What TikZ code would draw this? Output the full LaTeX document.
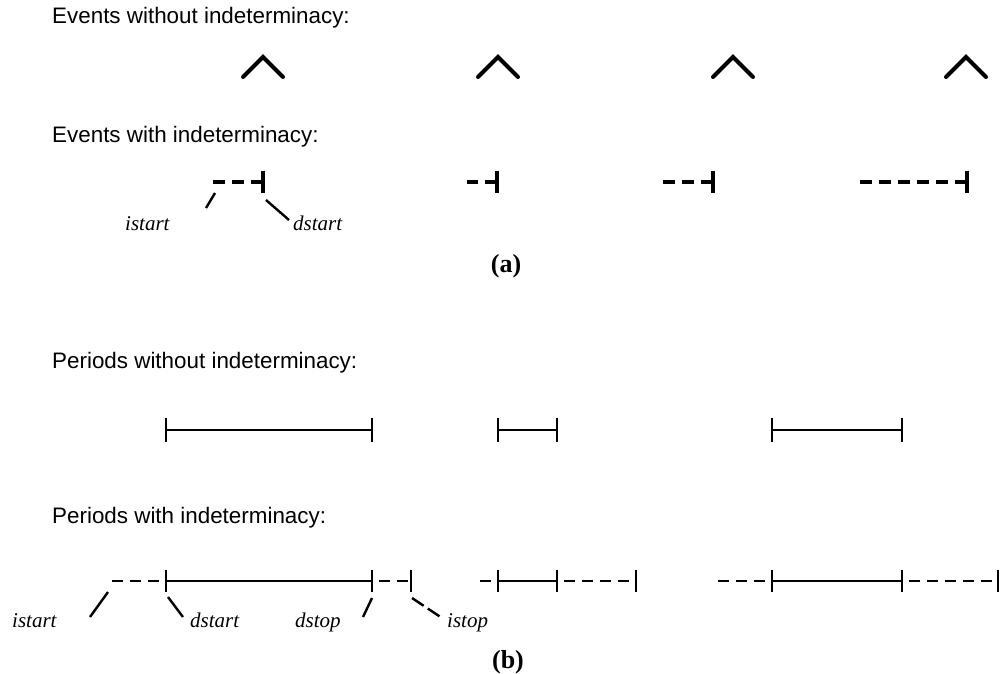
\documentclass[tikz,border=0pt]{standalone}
\usepackage{fontspec}
\setmainfont{Liberation Sans}
\newfontfamily\seriffont{Liberation Serif}
\begin{document}
\begin{tikzpicture}[x=1pt,y=-1pt,
  heading/.style={anchor=base west, inner sep=0pt, font=\fontsize{22.4}{27}\selectfont},
  tag/.style={anchor=base west, inner sep=0pt, font=\seriffont\itshape\fontsize{21}{25}\selectfont},
  caption/.style={anchor=base, inner sep=0pt, font=\seriffont\bfseries\fontsize{26}{30}\selectfont},
  caret/.style={line width=4pt, line cap=round, line join=miter},
  evdash/.style={line width=3.6pt, dash pattern=on 12pt off 7pt},
  evtick/.style={line width=3.4pt},
  span/.style={line width=2.2pt},
  pdtick/.style={line width=2.8pt},
  pddash/.style={line width=2.8pt, dash pattern=on 11pt off 7pt, dash phase=11pt},
  pointer/.style={line width=2.4pt},
]
\useasboundingbox (0,0) rectangle (1002,674);

% ---------- (a) events ----------
\node[heading] (evplain) at (52,24) {Events without indeterminacy:};
\foreach \a in {263,498,733,966} {
  \coordinate (apex\a) at (\a,57);
  \draw[caret] (apex\a) ++(-20,20) -- (apex\a) -- ++(20,20);
}

\node[heading] (evind) at (52,143) {Events with indeterminacy:};
\foreach \t/\s in {263/212, 497/467, 713/662, 967/857} {
  \coordinate (et\t) at (\t,182);
  \coordinate (es\t) at (\s,182);
  \draw[evdash] (et\t) -- (es\t);
  \draw[evtick] (et\t) ++(0,-11) -- ++(0,22);
}

% pointers and labels of the first event
\coordinate (ia1) at (215,193);
\coordinate (ia2) at (206,208);
\coordinate (da1) at (266,200);
\coordinate (da2) at (289,220);
\draw[pointer] (ia1) -- (ia2);
\draw[pointer] (da1) -- (da2);
\node[tag] (istartA) at (125,230) {istart};
\node[tag] (dstartA) at (293,230) {dstart};

\node[caption] (capa) at (506,272) {(a)};

% ---------- (b) periods ----------
\node[heading] (pdplain) at (52,368) {Periods without indeterminacy:};
\foreach \l/\r in {166/372, 498/557, 772/902} {
  \coordinate (pl\l) at (\l,430);
  \coordinate (pr\l) at (\r,430);
  \draw[span] (pl\l) -- (pr\l);
  \draw[pdtick] (pl\l) ++(0,-12) -- ++(0,24);
  \draw[pdtick] (pr\l) ++(0,-12) -- ++(0,24);
}

\node[heading] (pdind) at (52,523) {Periods with indeterminacy:};
% istart / dstart / dstop / istop of each period
\foreach \is/\ds/\dp/\ip in {107/166/372/411, 480/498/557/636, 713/772/902/998} {
  \coordinate (is\ds) at (\is,581);
  \coordinate (ds\ds) at (\ds,581);
  \coordinate (dp\ds) at (\dp,581);
  \coordinate (ip\ds) at (\ip,581);
  \draw[pddash] (ds\ds) -- (is\ds);
  \draw[span] (ds\ds) -- (dp\ds);
  \draw[pddash] (dp\ds) -- (ip\ds);
  \draw[pdtick] (ds\ds) ++(0,-11) -- ++(0,22);
  \draw[pdtick] (dp\ds) ++(0,-11) -- ++(0,22);
  \draw[pdtick] (ip\ds) ++(0,-11) -- ++(0,22);
}

% pointers and labels of the first period
\coordinate (ib1) at (108,592);
\coordinate (ib2) at (90,617);
\coordinate (db1) at (168,597);
\coordinate (db2) at (183,617);
\coordinate (pb1) at (372,598);
\coordinate (pb2) at (363,617);
\coordinate (qb1) at (412,598);
\coordinate (qb2) at (442,618);
\draw[pointer] (ib1) -- (ib2);
\draw[pointer] (db1) -- (db2);
\draw[pointer] (pb1) -- (pb2);
\draw[pointer, dash pattern=on 14pt off 5pt] (qb1) -- (qb2);
\node[tag] (istartB) at (12,627) {istart};
\node[tag] (dstartB) at (190,627) {dstart};
\node[tag] (dstopB) at (295,627) {dstop};
\node[tag] (istopB) at (447,627) {istop};

\node[caption] (capb) at (508,668) {(b)};
\end{tikzpicture}
\end{document}
